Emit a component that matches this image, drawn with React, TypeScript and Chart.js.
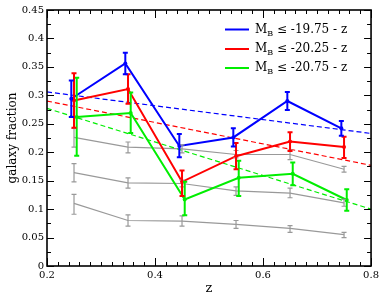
import React, { useEffect, useRef } from "react";
import { Chart, registerables } from "chart.js";

Chart.register(...registerables);

// ---- data ----
const xTickValues = [0.2, 0.4, 0.6, 0.8];
const yTickValues = [0, 0.05, 0.1, 0.15, 0.2, 0.25, 0.3, 0.35, 0.4, 0.45];

const zBlue = [0.245, 0.345, 0.445, 0.545, 0.645, 0.745];
const blueVals = [0.294, 0.356, 0.211, 0.226, 0.29, 0.242];
const blueLo = [0.262, 0.337, 0.191, 0.21, 0.274, 0.229];
const blueHi = [0.326, 0.375, 0.232, 0.242, 0.306, 0.255];

const zRed = [0.25, 0.35, 0.45, 0.55, 0.65, 0.75];
const redVals = [0.291, 0.311, 0.148, 0.193, 0.219, 0.209];
const redLo = [0.243, 0.285, 0.123, 0.17, 0.202, 0.19];
const redHi = [0.339, 0.337, 0.168, 0.216, 0.235, 0.227];

const zGreen = [0.255, 0.355, 0.455, 0.555, 0.655, 0.755];
const greenVals = [0.262, 0.269, 0.117, 0.155, 0.162, 0.116];
const greenLo = [0.194, 0.234, 0.089, 0.123, 0.142, 0.097];
const greenHi = [0.331, 0.305, 0.148, 0.185, 0.182, 0.135];

const zGrey = [0.25, 0.35, 0.45, 0.55, 0.65, 0.75];
const grey1Vals = [0.226, 0.209, 0.206, 0.196, 0.196, 0.17];
const grey1Lo = [0.209, 0.199, 0.199, 0.19, 0.187, 0.165];
const grey1Hi = [0.242, 0.218, 0.213, 0.203, 0.204, 0.175];
const grey2Vals = [0.164, 0.146, 0.145, 0.132, 0.128, 0.111];
const grey2Lo = [0.148, 0.137, 0.139, 0.124, 0.12, 0.105];
const grey2Hi = [0.18, 0.155, 0.151, 0.139, 0.137, 0.117];
const grey3Vals = [0.11, 0.08, 0.079, 0.073, 0.066, 0.055];
const grey3Lo = [0.091, 0.07, 0.07, 0.066, 0.059, 0.05];
const grey3Hi = [0.126, 0.09, 0.088, 0.08, 0.071, 0.059];

const fitZ = [0.2, 0.8];
const blueFit = [0.306, 0.233];
const redFit = [0.29, 0.177];
const greenFit = [0.277, 0.1];

const legendLabels = ["\u2264 -19.75 - z", "\u2264 -20.25 - z", "\u2264 -20.75 - z"];

const BLUE = "#0000ff";
const RED = "#ff0000";
const GREEN = "#00ee00";
const GREY = "#999999";
const legendColors = [BLUE, RED, GREEN];

const FONT = "'DejaVu Serif', serif";

function pts(xs: number[], ys: number[]) {
  return xs.map((x, i) => ({ x, y: ys[i] }));
}

function series(xs: number[], ys: number[], lo: number[], hi: number[], color: string, width: number, radius: number) {
  return {
    data: pts(xs, ys),
    errLo: lo,
    errHi: hi,
    borderColor: color,
    backgroundColor: color,
    borderWidth: width,
    pointRadius: radius,
    pointBorderWidth: 0,
    pointBackgroundColor: color,
    tension: 0,
    fill: false,
  } as any;
}

function fitLine(ys: number[], color: string) {
  return {
    data: pts(fitZ, ys),
    borderColor: color,
    borderWidth: 1.2,
    borderDash: [5, 3],
    pointRadius: 0,
    fill: false,
  } as any;
}

const errorBarPlugin = {
  id: "errorBars",
  afterDatasetsDraw(chart: any) {
    const ctx = chart.ctx;
    const xs = chart.scales.x;
    const ys = chart.scales.y;
    const n = chart.data.datasets.length;
    for (let d = n - 1; d >= 0; d--) {
      const ds: any = chart.data.datasets[d];
      if (!ds.errLo) continue;
      ctx.save();
      ctx.strokeStyle = ds.borderColor;
      ctx.lineWidth = ds.borderWidth;
      ds.data.forEach((p: any, i: number) => {
        const px = xs.getPixelForValue(p.x);
        const y1 = ys.getPixelForValue(ds.errLo[i]);
        const y2 = ys.getPixelForValue(ds.errHi[i]);
        const cw = 2.5;
        ctx.beginPath();
        ctx.moveTo(px, y1);
        ctx.lineTo(px, y2);
        ctx.moveTo(px - cw, y1);
        ctx.lineTo(px + cw, y1);
        ctx.moveTo(px - cw, y2);
        ctx.lineTo(px + cw, y2);
        ctx.stroke();
      });
      ctx.restore();
    }
  },
};

const framePlugin = {
  id: "frame",
  afterDraw(chart: any) {
    const ctx = chart.ctx;
    const { left, right, top, bottom } = chart.chartArea;
    const xs = chart.scales.x;
    const ys = chart.scales.y;
    ctx.save();
    ctx.strokeStyle = "#000";
    ctx.lineWidth = 1;
    ctx.beginPath();
    for (let k = 0; k <= 30; k++) {
      const v = 0.2 + k * 0.02;
      const major = k % 10 === 0;
      const len = major ? 8 : 4;
      const px = Math.round(xs.getPixelForValue(v)) + 0.5;
      ctx.moveTo(px, bottom);
      ctx.lineTo(px, bottom - len);
      ctx.moveTo(px, top);
      ctx.lineTo(px, top + len);
    }
    for (let k = 0; k <= 18; k++) {
      const v = k * 0.025;
      const major = k % 2 === 0;
      const len = major ? 7 : 4;
      const py = Math.round(ys.getPixelForValue(v)) + 0.5;
      ctx.moveTo(left, py);
      ctx.lineTo(left + len, py);
      ctx.moveTo(right, py);
      ctx.lineTo(right - len, py);
    }
    ctx.stroke();
    ctx.lineWidth = 1.6;
    ctx.strokeRect(left, top, right - left, bottom - top);

    const lx0 = 225;
    const lx1 = 249;
    const tx = 255;
    const rowY = [29.5, 49, 68];
    legendLabels.forEach((lab, i) => {
      const y = rowY[i];
      ctx.strokeStyle = legendColors[i];
      ctx.lineWidth = 2;
      ctx.beginPath();
      ctx.moveTo(lx0, y);
      ctx.lineTo(lx1, y);
      ctx.stroke();
      ctx.fillStyle = "#000";
      ctx.textBaseline = "middle";
      ctx.textAlign = "left";
      ctx.font = `12px ${FONT}`;
      ctx.fillText("M", tx, y);
      const mw = ctx.measureText("M").width;
      ctx.font = `8px ${FONT}`;
      ctx.fillText("B", tx + mw, y + 4);
      const bw = ctx.measureText("B").width;
      ctx.font = `12px ${FONT}`;
      ctx.fillText(" " + lab, tx + mw + bw, y);
    });
    ctx.restore();
  },
};

export default function App() {
  const ref = useRef<HTMLCanvasElement | null>(null);
  useEffect(() => {
    if (!ref.current) return;
    const chart = new Chart(ref.current, {
      type: "line",
      data: {
        datasets: [
          series(zBlue, blueVals, blueLo, blueHi, BLUE, 2, 2),
          series(zRed, redVals, redLo, redHi, RED, 2, 2),
          series(zGreen, greenVals, greenLo, greenHi, GREEN, 2, 2),
          fitLine(blueFit, BLUE),
          fitLine(redFit, RED),
          fitLine(greenFit, GREEN),
          series(zGrey, grey1Vals, grey1Lo, grey1Hi, GREY, 1.2, 0),
          series(zGrey, grey2Vals, grey2Lo, grey2Hi, GREY, 1.2, 0),
          series(zGrey, grey3Vals, grey3Lo, grey3Hi, GREY, 1.2, 0),
        ],
      },
      options: {
        animation: false,
        responsive: false,
        devicePixelRatio: 1,
        layout: { padding: { top: 10, right: 10, left: 0, bottom: 0 } },
        plugins: { legend: { display: false }, tooltip: { enabled: false } },
        scales: {
          x: {
            type: "linear",
            min: 0.2,
            max: 0.8,
            grid: { display: false, drawTicks: false },
            border: { display: false },
            afterBuildTicks: (s: any) => {
              s.ticks = xTickValues.map((v) => ({ value: v }));
            },
            afterFit: (s: any) => {
              s.height = 32;
            },
            ticks: {
              padding: 3,
              color: "#000",
              font: { family: FONT, size: 10 },
              maxRotation: 0,
              callback: (v: any) => String(Math.round(v * 10) / 10),
            },
            title: {
              display: true,
              text: "z",
              color: "#000",
              font: { family: FONT, size: 13 },
              padding: { top: 0, bottom: 2 },
            },
          },
          y: {
            type: "linear",
            min: 0,
            max: 0.45,
            grid: { display: false, drawTicks: false },
            border: { display: false },
            afterBuildTicks: (s: any) => {
              s.ticks = yTickValues.map((v) => ({ value: v }));
            },
            afterFit: (s: any) => {
              s.width = 47;
            },
            ticks: {
              padding: 3,
              color: "#000",
              font: { family: FONT, size: 10 },
              callback: (v: any) => String(Math.round(v * 100) / 100),
            },
            title: {
              display: true,
              text: "galaxy fraction",
              color: "#000",
              font: { family: FONT, size: 12 },
              padding: { top: 6, bottom: 0 },
            },
          },
        },
      },
      plugins: [errorBarPlugin, framePlugin],
    } as any);
    return () => chart.destroy();
  }, []);
  return (
    <div style={{ position: "absolute", left: 0, top: 0, width: 382, height: 298, background: "#fff" }}>
      <canvas ref={ref} width={382} height={298} style={{ width: 382, height: 298, display: "block" }} />
    </div>
  );
}
